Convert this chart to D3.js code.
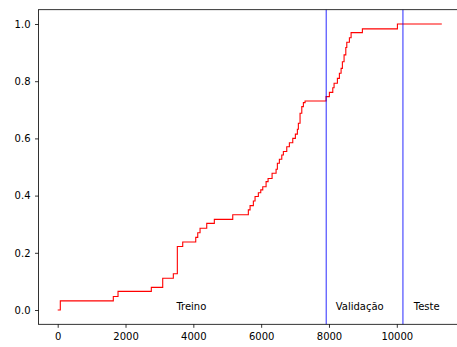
<!DOCTYPE html>
<html>
<head>
<meta charset="utf-8">
<script src="https://cdn.jsdelivr.net/npm/d3@7"></script>
<style>
  body { margin: 0; background: #fff; }
  svg { display: block; font-family: "DejaVu Sans", sans-serif; }
</style>
</head>
<body>
<svg id="chart" width="457" height="347"></svg>
<script>
// Cumulative curve: x where each step begins, and the level reached there
const stepX = [0, 77, 1640, 1779, 2761, 3097, 3410, 3528, 3687, 4071, 4130, 4198, 4395, 4619,
  5162, 5622, 5673, 5770, 5820, 5917, 5988, 6047, 6145, 6204, 6322, 6440, 6478, 6537, 6608,
  6655, 6755, 6832, 6932, 7009, 7068, 7097, 7147, 7198, 7245, 7295, 7914, 8012, 8112, 8150,
  8248, 8307, 8357, 8395, 8445, 8496, 8525, 8602, 8652, 8985, 10018, 11327];
const stepY = [0, 0.032, 0.047, 0.065, 0.079, 0.111, 0.127, 0.222, 0.238, 0.254, 0.270, 0.286, 0.303, 0.317,
  0.333, 0.350, 0.365, 0.381, 0.397, 0.410, 0.420, 0.431, 0.449, 0.460, 0.478, 0.492, 0.513, 0.527, 0.542,
  0.554, 0.571, 0.585, 0.600, 0.615, 0.632, 0.653, 0.688, 0.711, 0.725, 0.731, 0.746, 0.761, 0.777, 0.793,
  0.810, 0.828, 0.845, 0.868, 0.892, 0.918, 0.936, 0.952, 0.970, 0.983, 1.0, 1.0];

// Boundaries between the data splits
const splitX = [7920, 10180];
const regionNames = ["Treino", "Validação", "Teste"];
const regionNameX = [3500, 8200, 10500];
const regionNameY = [0, 0, 0];

const xTicks = [0, 2000, 4000, 6000, 8000, 10000];
const yTicks = [0.0, 0.2, 0.4, 0.6, 0.8, 1.0];

const svg = d3.select("#chart");
const x = d3.scaleLinear().domain([-566, 11893]).range([38.5, 461]);
const y = d3.scaleLinear().domain([-0.05, 1.05]).range([324.3, 9.7]);

const points = stepX.map((d, i) => [d, stepY[i]]);

// Step curve
svg.append("path")
  .datum(points)
  .attr("fill", "none")
  .attr("stroke", "red")
  .attr("stroke-width", 1.1)
  .attr("d", d3.line().x(d => x(d[0])).y(d => y(d[1])).curve(d3.curveStepAfter));

// Split markers
svg.selectAll("line.split")
  .data(splitX)
  .join("line")
  .attr("class", "split")
  .attr("x1", d => x(d)).attr("x2", d => x(d))
  .attr("y1", y.range()[0]).attr("y2", y.range()[1])
  .attr("stroke", "blue")
  .attr("stroke-opacity", 0.6)
  .attr("stroke-width", 1.4);

// Region names
svg.selectAll("text.region")
  .data(regionNames)
  .join("text")
  .attr("class", "region")
  .attr("x", (d, i) => x(regionNameX[i]))
  .attr("y", (d, i) => y(regionNameY[i]))
  .attr("font-size", 10)
  .attr("fill", "#000")
  .text(d => d);

// Axes
const xAxis = svg.append("g")
  .attr("transform", `translate(0,${y.range()[0]})`)
  .call(d3.axisBottom(x).tickValues(xTicks).tickSize(3.5).tickPadding(5.5).tickFormat(d3.format("d")));
const yAxis = svg.append("g")
  .attr("transform", `translate(${x.range()[0]},0)`)
  .call(d3.axisLeft(y).tickValues(yTicks).tickSize(3.5).tickPadding(4.5).tickFormat(d3.format(".1f")));

[xAxis, yAxis].forEach(g => {
  g.select(".domain").remove();
  g.selectAll(".tick line").attr("stroke", "#000").attr("stroke-width", 0.8);
  g.selectAll(".tick text").attr("font-size", 10).attr("font-family", "DejaVu Sans, sans-serif").attr("fill", "#000");
});

// Frame
svg.append("rect")
  .attr("x", x.range()[0]).attr("y", y.range()[1])
  .attr("width", x.range()[1] - x.range()[0])
  .attr("height", y.range()[0] - y.range()[1])
  .attr("fill", "none")
  .attr("stroke", "#000")
  .attr("stroke-width", 0.8);
</script>
</body>
</html>
